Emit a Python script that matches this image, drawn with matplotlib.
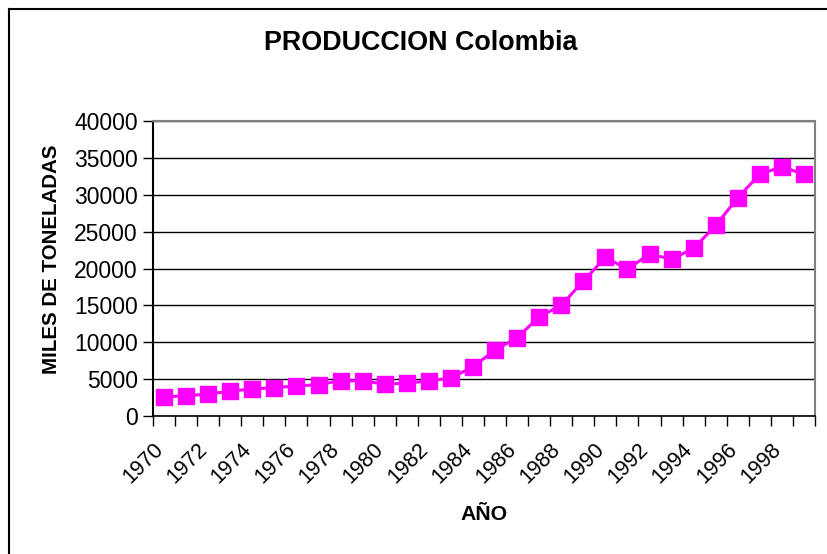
import numpy as np
import matplotlib
matplotlib.use("Agg")
import matplotlib.pyplot as plt
import matplotlib.transforms as mtransforms
from matplotlib.lines import Line2D

plt.rcParams['font.family'] = ['Liberation Sans', 'DejaVu Sans']

# --- datos ---
anios = list(range(1970, 2000))
produccion = [2550, 2770, 2950, 3400, 3640, 3860, 4050, 4270, 4770, 4770,
              4320, 4450, 4770, 5150, 6680, 8940, 10610, 13460, 15000, 18290,
              21500, 19920, 21950, 21270, 22720, 25840, 29590, 32790, 33790, 32790]
etiquetas_x = [str(a) for a in anios[::2]]
ticks_y = [0, 5000, 10000, 15000, 20000, 25000, 30000, 35000, 40000]

W, H = 827, 554
fig = plt.figure(figsize=(W / 100, H / 100), dpi=100)

# area del grafico en pixeles
left, right, top, bottom = 153, 815, 121, 416
ax = fig.add_axes([left / W, 1 - bottom / H, (right - left) / W, (bottom - top) / H])

x = np.arange(len(anios))
ax.plot(x, produccion, color='#FF00FF', lw=2.2, marker='s', ms=11.5,
        markeredgecolor='#FF00FF', zorder=3, clip_on=False)

ax.set_xlim(-0.5, len(anios) - 0.5)
ax.set_ylim(0, 40000)
ax.set_yticks(ticks_y)
ax.set_yticklabels([str(t) for t in ticks_y], fontsize=16.5)
ax.yaxis.grid(True, color='black', lw=1)
ax.set_axisbelow(True)

# ticks de categoria en los bordes
ax.set_xticks(np.arange(-0.5, len(anios), 1.0), minor=True)
ax.set_xticks(x[::2])
ax.set_xticklabels(etiquetas_x, fontsize=15.5, rotation=45, ha='right',
                   va='center', rotation_mode='anchor')
ax.tick_params(axis='x', which='major', length=0, pad=22)
ax.tick_params(axis='x', which='minor', length=7, width=1, direction='out')
ax.tick_params(axis='y', length=7, width=1, direction='out', pad=4)
desplaza = mtransforms.ScaledTranslation(-4 / 100, 0, fig.dpi_scale_trans)
for lbl in ax.get_xticklabels():
    lbl.set_transform(lbl.get_transform() + desplaza)

ax.spines['left'].set_color('black')
ax.spines['left'].set_linewidth(1.5)
ax.spines['bottom'].set_color('black')
ax.spines['bottom'].set_linewidth(1.2)
ax.spines['top'].set_color('#808080')
ax.spines['top'].set_linewidth(1.5)
ax.spines['right'].set_color('#808080')
ax.spines['right'].set_linewidth(1.5)

# textos
fig.text(421 / W, 1 - 43 / H, 'PRODUCCION Colombia', fontsize=19.4, fontweight='bold',
         ha='center', va='center')
fig.text(52 / W, 1 - 259 / H, 'MILES DE TONELADAS', fontsize=14.8, fontweight='bold',
         rotation=90, ha='center', va='center')
fig.text(484 / W, 1 - 515 / H, 'AÑO', fontsize=15.3, fontweight='bold',
         ha='center', va='center')

# borde del area del grafico
fig.add_artist(Line2D([9 / W, 1], [1 - 9 / H, 1 - 9 / H], color='black', lw=1.5))
fig.add_artist(Line2D([9 / W, 9 / W], [0, 1 - 9 / H], color='black', lw=1.5))

fig.savefig('out.png', dpi=100)
